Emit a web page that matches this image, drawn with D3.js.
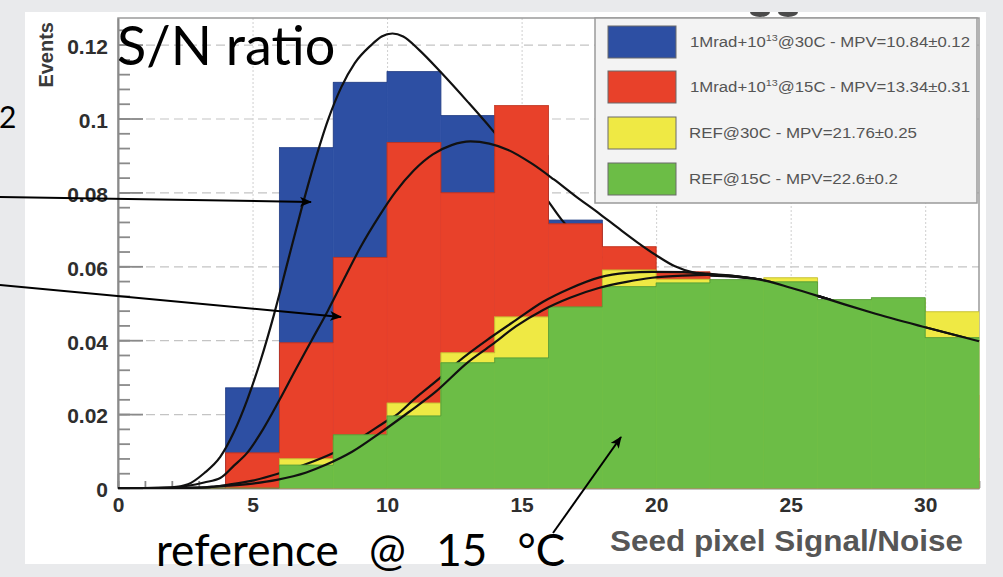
<!DOCTYPE html>
<html><head><meta charset="utf-8">
<script src="https://cdn.jsdelivr.net/npm/d3@7"></script>
<style>html,body{margin:0;padding:0;background:#e9eaec;overflow:hidden}svg{display:block}</style>
</head><body>
<svg id="c" width="1003" height="577"></svg>
<script>
// ---------- DATA ----------
const binEdges = [0,2,4,6,8,10,12,14,16,18,20,22,24,26,28,30,32];
const blueValues   = [0,0,0.0271,0.0921,0.1098,0.1127,0.1008,0.090,0.0725,0.058,0.045,0.035,0.025,0.018,0.012,0.008];
const redValues    = [0,0,0.0095,0.0393,0.0624,0.0935,0.0799,0.1035,0.0715,0.0653,0.0585,0.050,0.040,0.035,0.030,0.025];
const yellowValues = [0,0,0,0.0079,0.0130,0.0230,0.0366,0.0463,0.0480,0.0590,0.0565,0.0560,0.0569,0.0505,0.0510,0.0477];
const greenValues  = [0,0,0,0.0062,0.0144,0.0195,0.0339,0.0352,0.0490,0.0545,0.0555,0.0564,0.0558,0.0510,0.0515,0.0407];

const fitBlueX = [0,1,2,2.6,3.2,3.8,4.3,4.8,5.3,5.8,6.3,6.8,7.3,7.8,8.3,8.8,9.4,9.8,10.2,10.6,11.2,12.0,13.0,13.9,15.0,16.0,16.5,17.2,18,19,20,21,22,23,24,25,26,27,28,30,32];
const fitBlueY = [0,0,0.0002,0.001,0.004,0.0084,0.015,0.0238,0.0345,0.047,0.061,0.075,0.088,0.0995,0.1085,0.115,0.1198,0.1222,0.1230,0.1222,0.1185,0.1125,0.1045,0.097,0.087,0.0775,0.0725,0.067,0.0625,0.0595,0.0580,0.0576,0.0575,0.0571,0.0562,0.0542,0.0520,0.0497,0.0475,0.0435,0.0397];
const fitRedX = [0,1,2,2.6,3.2,3.8,4.3,4.8,5.4,6.0,6.6,7.2,7.8,8.5,9.0,9.7,10.3,11.0,11.7,12.4,13.1,13.8,14.5,15.4,16.2,17.0,17.9,18.6,19.3,20.0,20.7,21.4,22,23,24,25,26,27,28,30,32];
const fitRedY = [0,0,0.0001,0.0006,0.0015,0.0027,0.006,0.0095,0.016,0.0238,0.032,0.040,0.048,0.058,0.065,0.0735,0.080,0.086,0.0903,0.0928,0.0938,0.0932,0.0915,0.0877,0.0835,0.079,0.0742,0.0703,0.0665,0.0630,0.0600,0.0583,0.0578,0.0573,0.0562,0.0542,0.0520,0.0497,0.0475,0.0435,0.0397];
const fitYellowX = [0,2,3,3.5,4,5,6,7,8,9,10,10.3,11,12,12.6,13.9,14.8,15.8,16.8,17.9,18.9,19.85,21,21.9,23,24,25,26,27,28,30,32];
const fitYellowY = [0,0,0.0001,0.0003,0.0008,0.002,0.004,0.0065,0.0095,0.0135,0.0182,0.0195,0.024,0.030,0.0339,0.041,0.0455,0.0504,0.054,0.0570,0.0582,0.0585,0.0584,0.0580,0.0573,0.0562,0.0542,0.0520,0.0497,0.0475,0.0435,0.0397];
const fitGreenX = [0,2,3,3.8,5,5.9,7,7.7,8.7,9.74,10.8,11.8,13,13.9,14.8,15.8,16.8,17.9,18.9,19.85,21,21.9,23,24,25,26,27,28,30,32];
const fitGreenY = [0,0,0.0001,0.0005,0.0012,0.0022,0.0042,0.0062,0.0098,0.0149,0.0205,0.026,0.034,0.0388,0.0438,0.0482,0.0515,0.0542,0.0558,0.0569,0.0575,0.0577,0.0572,0.0562,0.0542,0.0520,0.0497,0.0475,0.0435,0.0397];

const legendLabels = [
  ["1Mrad+10","13","@30C - MPV=10.84±0.12"],
  ["1Mrad+10","13","@15C - MPV=13.34±0.31"],
  ["REF@30C - MPV=21.76±0.25","",""],
  ["REF@15C - MPV=22.6±0.2","",""]
];
const xTicks = [0,5,10,15,20,25,30];
const yTicks = [0,0.02,0.04,0.06,0.08,0.1,0.12];
const xTitle = "Seed pixel Signal/Noise";
const yTitle = "Events";

// ---------- STYLE ----------
const colBlue="#2d4fa3", colRed="#e8412a", colYellow="#efe944", colGreen="#6cbd46";
const svg = d3.select("#c");
const x = d3.scaleLinear().domain([0,32]).range([118,979]);
const y = d3.scaleLinear().domain([0,0.1272]).range([488,18]);
const ROOTFONT = "'Liberation Sans', Arial, Helvetica, sans-serif";

// slide background + white panel
svg.append("rect").attr("x",0).attr("y",0).attr("width",1003).attr("height",577).attr("fill","#e9eaec");
svg.append("rect").attr("x",25).attr("y",12).attr("width",961).attr("height",552).attr("fill","#ffffff");
// cut-off glyph bottoms at the top
svg.append("ellipse").attr("cx",760).attr("cy",12).attr("rx",10).attr("ry",5).attr("fill","#4a4a4a");
svg.append("ellipse").attr("cx",788).attr("cy",12).attr("rx",10).attr("ry",5).attr("fill","#4a4a4a");
svg.append("rect").attr("x",700).attr("y",0).attr("width",150).attr("height",12).attr("fill","#e9eaec");

// grids
const gGrid = svg.append("g");
gGrid.append("g").attr("transform","translate(118,0)")
  .call(d3.axisLeft(y).tickValues(yTicks.filter(d=>d>0)).tickSize(-861).tickFormat(""))
  .call(g=>g.select(".domain").remove())
  .call(g=>g.selectAll("line").attr("stroke","#c4c4c4").attr("stroke-width",1.2).attr("stroke-dasharray","9,5"));
gGrid.append("g").attr("transform","translate(0,488)")
  .call(d3.axisBottom(x).tickValues(xTicks.filter(d=>d>0)).tickSize(-470).tickFormat(""))
  .call(g=>g.select(".domain").remove())
  .call(g=>g.selectAll("line").attr("stroke","#cfcfcf").attr("stroke-width",1).attr("stroke-dasharray","2,2"));

// frame
svg.append("rect").attr("x",118).attr("y",18).attr("width",861).attr("height",470)
  .attr("fill","none").attr("stroke","#9a9a9a").attr("stroke-width",1.5);

// axes
const axisCol="#8a8a8a";
const yMinor = d3.range(0,0.1272,0.004);
svg.append("g").attr("transform","translate(118,0)")
  .call(d3.axisLeft(y).tickValues(yMinor).tickSize(-12).tickSizeOuter(0).tickFormat(""))
  .call(g=>g.selectAll("line").attr("stroke",axisCol).attr("stroke-width",1.8))
  .call(g=>g.select(".domain").attr("stroke",axisCol).attr("stroke-width",2));
svg.append("g").attr("transform","translate(118,0)")
  .call(d3.axisLeft(y).tickValues(yTicks).tickSize(-25).tickSizeOuter(0).tickPadding(10)
    .tickFormat(d=>d===0?"0":d3.format("")(+d.toFixed(2))))
  .call(g=>g.select(".domain").remove())
  .call(g=>g.selectAll("line").attr("stroke",axisCol).attr("stroke-width",1.8))
  .call(g=>g.selectAll("text").attr("fill","#2e2e2e").attr("font-family",ROOTFONT)
      .attr("font-weight","bold").attr("font-size",21).attr("dy","0.42em"));
const xMinor = d3.range(0,33,1);
svg.append("g").attr("transform","translate(0,488)")
  .call(d3.axisBottom(x).tickValues(xMinor).tickSize(-7).tickSizeOuter(0).tickFormat(""))
  .call(g=>g.selectAll("line").attr("stroke",axisCol).attr("stroke-width",1.8))
  .call(g=>g.select(".domain").attr("stroke",axisCol).attr("stroke-width",2));
svg.append("g").attr("transform","translate(0,488)")
  .call(d3.axisBottom(x).tickValues(xTicks).tickSize(-14).tickSizeOuter(0).tickPadding(9).tickFormat(d3.format("d")))
  .call(g=>g.select(".domain").remove())
  .call(g=>g.selectAll("line").attr("stroke",axisCol).attr("stroke-width",1.8))
  .call(g=>g.selectAll("text").attr("fill","#2e2e2e").attr("font-family",ROOTFONT)
      .attr("font-weight","bold").attr("font-size",21));

// axis titles
svg.append("text").attr("transform","translate(53,22) rotate(-90)").attr("text-anchor","end")
  .attr("font-family",ROOTFONT).attr("font-weight","bold").attr("font-size",20).attr("fill","#3a3a3a").text(yTitle);
svg.append("text").attr("x",963).attr("y",551).attr("text-anchor","end")
  .attr("font-family",ROOTFONT).attr("font-weight","bold").attr("font-size",30).attr("fill","#565656")
  .attr("textLength",353).attr("lengthAdjust","spacingAndGlyphs").text(xTitle);

// histograms + fits
const lineFit = d3.line().x(d=>x(d[0])).y(d=>y(d[1])).curve(d3.curveMonotoneX);
function drawHist(vals, fill, edge){
  const g = svg.append("g");
  g.selectAll("rect").data(vals).join("rect")
    .attr("x",(d,i)=>x(binEdges[i])).attr("width",(d,i)=>x(binEdges[i+1])-x(binEdges[i]))
    .attr("y",d=>y(d)).attr("height",d=>y(0)-y(d)).attr("fill",fill)
    .attr("stroke",fill).attr("stroke-width",0.6);
  const pts=[];
  vals.forEach((v,i)=>{pts.push([binEdges[i],v]);pts.push([binEdges[i+1],v]);});
  g.append("path").attr("d",d3.line().x(d=>x(d[0])).y(d=>y(d[1])).curve(d3.curveLinear)(pts))
    .attr("fill","none").attr("stroke",edge).attr("stroke-width",1).attr("opacity",0.55);
}
function drawFit(xs, ys){
  svg.append("path").attr("d",lineFit(xs.map((v,i)=>[v,ys[i]])))
    .attr("fill","none").attr("stroke","#111").attr("stroke-width",2.2);
}
drawHist(blueValues,colBlue,"#1e3473"); drawFit(fitBlueX,fitBlueY);
drawHist(redValues,colRed,"#a82a18");   drawFit(fitRedX,fitRedY);
drawHist(yellowValues,colYellow,"#a8a32a"); drawFit(fitYellowX,fitYellowY);
drawHist(greenValues,colGreen,"#4a8a30");   drawFit(fitGreenX,fitGreenY);

// legend
const lg = svg.append("g");
lg.append("rect").attr("x",595).attr("y",18).attr("width",382).attr("height",185)
  .attr("fill","#f3f3f3").attr("stroke","#9a9a9a").attr("stroke-width",1.5);
const legCols=[colBlue,colRed,colYellow,colGreen];
const legY=[42,87,133,179];
const legLen=[280,280,228,209];
legendLabels.forEach((lab,i)=>{
  lg.append("rect").attr("x",608).attr("y",legY[i]-16).attr("width",68).attr("height",32)
    .attr("fill",legCols[i]).attr("stroke","#6a6a6a").attr("stroke-width",1);
  const t = lg.append("text").attr("x",i<2?690:689).attr("y",legY[i]+5)
    .attr("font-family",ROOTFONT).attr("font-size",14).attr("fill","#555")
    .attr("textLength",legLen[i]).attr("lengthAdjust","spacingAndGlyphs");
  t.append("tspan").text(lab[0]);
  if(lab[1]){
    t.append("tspan").attr("dy",-6).attr("font-size",9).text(lab[1]);
    t.append("tspan").attr("dy",6).text(lab[2]);
  }
});

// slide overlay text & arrows
const SLIDE = "Lato, 'Open Sans', sans-serif";
svg.append("text").attr("x",117).attr("y",65).attr("font-family",SLIDE).attr("font-size",54).attr("fill","#000").text("S/N ratio");
svg.append("text").attr("x",-1).attr("y",128).attr("font-family",SLIDE).attr("font-size",30).attr("fill","#000").text("2");
svg.append("text").attr("x",156).attr("y",566).attr("font-family",SLIDE).attr("font-size",44).attr("fill","#000")
  .style("word-spacing","19px").text("reference @ 15 °C");

const defs = svg.append("defs");
defs.append("marker").attr("id","ah").attr("viewBox","0 0 12 10").attr("refX",11).attr("refY",5)
  .attr("markerWidth",12).attr("markerHeight",10).attr("markerUnits","userSpaceOnUse").attr("orient","auto")
  .append("path").attr("d","M0,0 L12,5 L0,10 L3,5 Z").attr("fill","#000");
const arrows = [[0,197,311,202],[0,285,341,317],[553,533,621,437]];
arrows.forEach(a=>{
  svg.append("line").attr("x1",a[0]).attr("y1",a[1]).attr("x2",a[2]).attr("y2",a[3])
    .attr("stroke","#000").attr("stroke-width",2).attr("marker-end","url(#ah)");
});
</script>
</body></html>
